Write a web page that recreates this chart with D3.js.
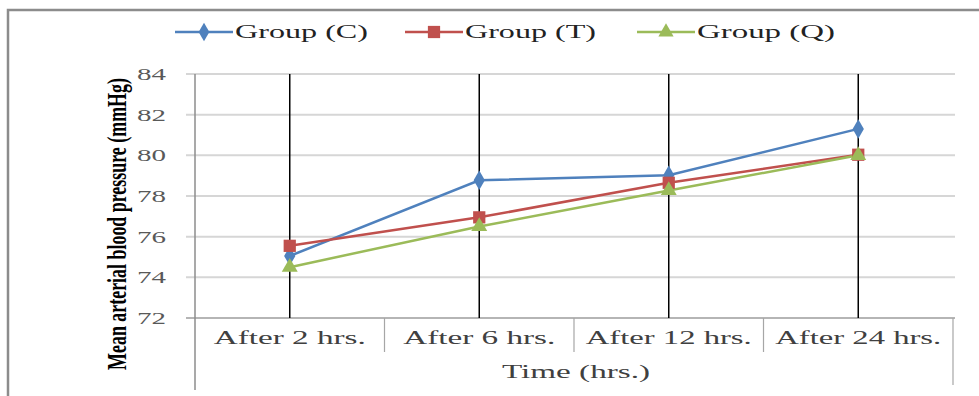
<!DOCTYPE html>
<html>
<head>
<meta charset="utf-8">
<script src="https://cdn.jsdelivr.net/npm/d3@7"></script>
<style>
body { margin: 0; background: #fff; }
svg { display: block; }
text { font-family: "Liberation Serif", "Times New Roman", serif; }
</style>
</head>
<body>
<script>
//chart data
var categories = ["After 2 hrs.", "After 6 hrs.", "After 12 hrs.", "After 24 hrs."];
var groupC = [75.05, 78.77, 79.02, 81.3];
var groupT = [75.55, 76.95, 78.65, 80.03];
var groupQ = [74.5, 76.5, 78.27, 80.0];
var seriesNames = ["Group (C)", "Group (T)", "Group (Q)"];
var yTicks = [72, 74, 76, 78, 80, 82, 84];

var width = 979, height = 396;
var colors = ["#4F81BD", "#C0504D", "#9BBB59"];
var symbols = [d3.symbolDiamond, d3.symbolSquare, d3.symbolTriangle];

var svg = d3.select("body").append("svg")
    .attr("width", width)
    .attr("height", height);

//outer frame
svg.append("rect")
    .attr("x", 8).attr("y", 10)
    .attr("width", 990).attr("height", 400)
    .attr("fill", "#fff")
    .attr("stroke", "#8c8c8c")
    .attr("stroke-width", 2.5);

var x = d3.scaleBand().domain(categories).range([195, 953]).padding(0);
var y = d3.scaleLinear().domain([72, 84]).range([318, 74]);

//horizontal gridlines
svg.append("g").selectAll("line")
    .data(yTicks)
    .enter().append("line")
    .attr("x1", 186).attr("x2", 955)
    .attr("y1", function(d){ return y(d); })
    .attr("y2", function(d){ return y(d); })
    .attr("stroke", function(d){ return d == 72 ? "#b5b5b5" : "#d6d6d6"; })
    .attr("stroke-width", 2);

//y tick labels
svg.append("g").selectAll("text")
    .data(yTicks)
    .enter().append("text")
    .attr("x", 166)
    .attr("y", function(d){ return y(d) + 6; })
    .attr("text-anchor", "end")
    .attr("textLength", 29)
    .attr("lengthAdjust", "spacingAndGlyphs")
    .attr("fill", "#595959")
    .style("font-size", "17px")
    .text(function(d){ return d; });

//left axis line
svg.append("line")
    .attr("x1", 195).attr("x2", 195)
    .attr("y1", 74).attr("y2", 390)
    .attr("stroke", "#8c8c8c").attr("stroke-width", 1.5);

//category separators below the axis
var bounds = categories.map(function(c){ return x(c); }).concat([x.range()[1]]);
svg.append("g").selectAll("line")
    .data(bounds.slice(1))
    .enter().append("line")
    .attr("x1", function(d){ return d; })
    .attr("x2", function(d){ return d; })
    .attr("y1", 318)
    .attr("y2", function(d, i){ return i == bounds.length - 2 ? 385 : 352; })
    .attr("stroke", "#a6a6a6").attr("stroke-width", 1.2);

//category labels
svg.append("g").selectAll("text")
    .data(categories)
    .enter().append("text")
    .attr("x", function(d){ return x(d) + x.bandwidth() / 2; })
    .attr("y", 344)
    .attr("text-anchor", "middle")
    .attr("textLength", function(d){ return d.length > 12 ? 166 : 152; })
    .attr("lengthAdjust", "spacingAndGlyphs")
    .attr("fill", "#404040")
    .style("font-size", "18px")
    .text(function(d){ return d; });

//x axis title
svg.append("text")
    .attr("x", 576).attr("y", 378)
    .attr("text-anchor", "middle")
    .attr("textLength", 148)
    .attr("lengthAdjust", "spacingAndGlyphs")
    .attr("fill", "#404040")
    .style("font-size", "18px")
    .text("Time (hrs.)");

//y axis title, squeezed with a scale so it stays 292px long
var yTitle = svg.append("text")
    .attr("text-anchor", "middle")
    .attr("fill", "#000")
    .style("font-size", "27px")
    .style("font-weight", "bold")
    .text("Mean arterial blood pressure (mmHg)");
var natural = yTitle.node().getComputedTextLength();
yTitle.attr("transform", "translate(126,224) rotate(-90) scale(" + (292 / natural) + ",1)");

//vertical drop lines at each category
svg.append("g").selectAll("line")
    .data(categories)
    .enter().append("line")
    .attr("x1", function(d){ return x(d) + x.bandwidth() / 2; })
    .attr("x2", function(d){ return x(d) + x.bandwidth() / 2; })
    .attr("y1", 74).attr("y2", 318)
    .attr("stroke", "#000").attr("stroke-width", 1.5);

//series lines and markers
var allSeries = [groupC, groupT, groupQ];
var line = d3.line()
    .x(function(d, i){ return x(categories[i]) + x.bandwidth() / 2; })
    .y(function(d){ return y(d); });

allSeries.forEach(function(vals, s){
    svg.append("path")
        .datum(vals)
        .attr("d", line)
        .attr("fill", "none")
        .attr("stroke", colors[s])
        .attr("stroke-width", 2.5);
});

allSeries.forEach(function(vals, s){
    svg.append("g").selectAll("path")
        .data(vals)
        .enter().append("path")
        .attr("transform", function(d, i){
            return "translate(" + (x(categories[i]) + x.bandwidth() / 2) + "," + y(d) + ")";
        })
        .attr("d", d3.symbol().type(symbols[s]).size(s == 1 ? 150 : 110))
        .attr("fill", colors[s]);
});

//legend
var legendX = [175, 405, 637];
var legendTextLen = [133, 131, 138];
var legend = svg.append("g").selectAll("g")
    .data(seriesNames)
    .enter().append("g")
    .attr("transform", function(d, i){ return "translate(" + legendX[i] + ",32)"; });

legend.append("line")
    .attr("x1", 0).attr("x2", 58)
    .attr("stroke", function(d, i){ return colors[i]; })
    .attr("stroke-width", 2.5);

legend.append("path")
    .attr("transform", "translate(29,0)")
    .attr("d", function(d, i){ return d3.symbol().type(symbols[i]).size(i == 1 ? 150 : 100)(); })
    .attr("fill", function(d, i){ return colors[i]; });

legend.append("text")
    .attr("x", 60).attr("y", 6)
    .attr("textLength", function(d, i){ return legendTextLen[i]; })
    .attr("lengthAdjust", "spacingAndGlyphs")
    .attr("fill", "#222")
    .style("font-size", "19px")
    .text(function(d){ return d; });
</script>
</body>
</html>
